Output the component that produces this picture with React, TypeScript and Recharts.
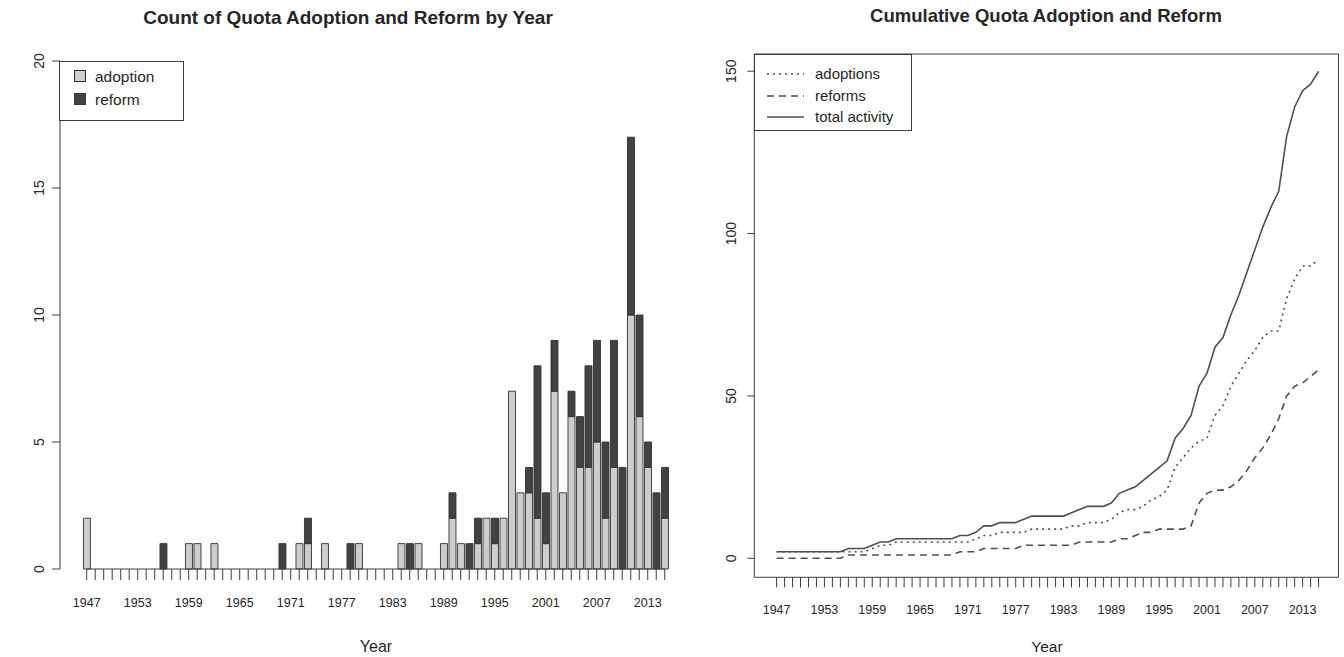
import React from 'react';
import {
  BarChart,
  Bar,
  LineChart,
  Line,
  XAxis,
  YAxis,
  ReferenceLine,
  ReferenceArea,
  Legend,
} from 'recharts';

// ---- data -------------------------------------------------------------
const years = [
  1947, 1948, 1949,
  1950, 1951, 1952, 1953, 1954, 1955, 1956, 1957, 1958, 1959,
  1960, 1961, 1962, 1963, 1964, 1965, 1966, 1967, 1968, 1969,
  1970, 1971, 1972, 1973, 1974, 1975, 1976, 1977, 1978, 1979,
  1980, 1981, 1982, 1983, 1984, 1985, 1986, 1987, 1988, 1989,
  1990, 1991, 1992, 1993, 1994, 1995, 1996, 1997, 1998, 1999,
  2000, 2001, 2002, 2003, 2004, 2005, 2006, 2007, 2008, 2009,
  2010, 2011, 2012, 2013, 2014, 2015,
];

// yearly counts
const adoptionCounts = [
  2, 0, 0,
  0, 0, 0, 0, 0, 0, 0, 0, 0, 1,
  1, 0, 1, 0, 0, 0, 0, 0, 0, 0,
  0, 0, 1, 1, 0, 1, 0, 0, 0, 1,
  0, 0, 0, 0, 1, 0, 1, 0, 0, 1,
  2, 1, 0, 1, 2, 1, 2, 7, 3, 3,
  2, 1, 7, 3, 6, 4, 4, 5, 2, 4,
  0, 10, 6, 4, 0, 2,
];
const reformCounts = [
  0, 0, 0,
  0, 0, 0, 0, 0, 0, 1, 0, 0, 0,
  0, 0, 0, 0, 0, 0, 0, 0, 0, 0,
  1, 0, 0, 1, 0, 0, 0, 0, 1, 0,
  0, 0, 0, 0, 0, 1, 0, 0, 0, 0,
  1, 0, 1, 1, 0, 1, 0, 0, 0, 1,
  6, 2, 2, 0, 1, 2, 4, 4, 3, 5,
  4, 7, 4, 1, 3, 2,
];

// running totals
const cumAdoptions = [
  2, 2, 2,
  2, 2, 2, 2, 2, 2, 2, 2, 2, 3,
  4, 4, 5, 5, 5, 5, 5, 5, 5, 5,
  5, 5, 6, 7, 7, 8, 8, 8, 8, 9,
  9, 9, 9, 9, 10, 10, 11, 11, 11, 12,
  14, 15, 15, 16, 18, 19, 21, 28, 31, 34,
  36, 37, 44, 47, 53, 57, 61, 64, 68, 70,
  70, 80, 86, 90, 90, 92,
];
const cumReforms = [
  0, 0, 0,
  0, 0, 0, 0, 0, 0, 1, 1, 1, 1,
  1, 1, 1, 1, 1, 1, 1, 1, 1, 1,
  2, 2, 2, 3, 3, 3, 3, 3, 4, 4,
  4, 4, 4, 4, 4, 5, 5, 5, 5, 5,
  6, 6, 7, 8, 8, 9, 9, 9, 9, 10,
  17, 20, 21, 21, 22, 24, 27, 31, 34, 38,
  43, 50, 53, 54, 56, 58,
];
const cumTotal = [
  2, 2, 2,
  2, 2, 2, 2, 2, 2, 3, 3, 3, 4,
  5, 5, 6, 6, 6, 6, 6, 6, 6, 6,
  7, 7, 8, 10, 10, 11, 11, 11, 12, 13,
  13, 13, 13, 13, 14, 15, 16, 16, 16, 17,
  20, 21, 22, 24, 26, 28, 30, 37, 40, 44,
  53, 57, 65, 68, 75, 81, 88, 95, 102, 108,
  113, 130, 139, 144, 146, 150,
];

const yearTickLabels = [1947, 1953, 1959, 1965, 1971, 1977, 1983, 1989, 1995, 2001, 2007, 2013];
const countTicks = [0, 5, 10, 15, 20];
const cumulativeTicks = [0, 50, 100, 150];

const countRows = years.map((y, i) => ({
  year: String(y),
  adoption: adoptionCounts[i],
  reform: reformCounts[i],
}));
const cumulativeRows = years.map((y, i) => ({
  year: y,
  adoptions: cumAdoptions[i],
  reforms: cumReforms[i],
  total: cumTotal[i],
}));

// ---- styling ----------------------------------------------------------
const FONT = '"Liberation Sans", Arial, Helvetica, sans-serif';
const INK = '#262626';
const AXIS = '#3c3c3c';
const LIGHT = '#cdcdcd';
const DARK = '#424242';
const LINE = '#4f4f4f';

// one tick per year, a label every six years
const YearTick = (props: any) => {
  const { x, y, payload, tickLen, labelDy } = props;
  const yr = Number(payload.value);
  const show = yearTickLabels.includes(yr);
  return (
    <g>
      <line x1={x} x2={x} y1={y} y2={y + tickLen} stroke={AXIS} strokeWidth={1} />
      {show && (
        <text x={x} y={y + labelDy} textAnchor="middle" fontFamily={FONT} fontSize={12.5} fill={INK}>
          {yr}
        </text>
      )}
    </g>
  );
};

// y ticks with labels turned parallel to the axis
const ValueTick = (props: any) => {
  const { x, y, payload, tickLen, labelDx } = props;
  const lx = x - labelDx;
  return (
    <g>
      <line x1={x - tickLen} x2={x} y1={y} y2={y} stroke={AXIS} strokeWidth={1} />
      <text
        x={lx}
        y={y}
        transform={`rotate(-90, ${lx}, ${y})`}
        textAnchor="middle"
        fontFamily={FONT}
        fontSize={14}
        fill={INK}
      >
        {payload.value}
      </text>
    </g>
  );
};

const CountLegend = () => (
  <svg width={126} height={61} style={{ display: 'block' }}>
    <rect x={0.5} y={0.5} width={124} height={59} fill="#fff" stroke={AXIS} />
    <rect x={15.5} y={9.5} width={11} height={11} fill={LIGHT} stroke="#333" />
    <text x={36} y={21} fontFamily={FONT} fontSize={15.5} fill={INK}>adoption</text>
    <rect x={15.5} y={32.5} width={11} height={11} fill={DARK} stroke="#333" />
    <text x={36} y={44} fontFamily={FONT} fontSize={15.5} fill={INK}>reform</text>
  </svg>
);

const CumulativeLegend = () => (
  <svg width={159} height={78} style={{ display: 'block' }}>
    <rect x={0.5} y={0.5} width={157} height={76} fill="#fff" stroke={AXIS} />
    <line x1={13} x2={50} y1={20} y2={20} stroke={LINE} strokeWidth={1.6} strokeDasharray="2 4" />
    <text x={61} y={25} fontFamily={FONT} fontSize={15} fill={INK}>adoptions</text>
    <line x1={13} x2={50} y1={42} y2={42} stroke={LINE} strokeWidth={1.6} strokeDasharray="7 5" />
    <text x={61} y={47} fontFamily={FONT} fontSize={15} fill={INK}>reforms</text>
    <line x1={13} x2={50} y1={63} y2={63} stroke={LINE} strokeWidth={1.6} />
    <text x={61} y={68} fontFamily={FONT} fontSize={15} fill={INK}>total activity</text>
  </svg>
);

export default function App() {
  return (
    <div
      style={{
        position: 'absolute',
        left: 0,
        top: 0,
        width: 1344,
        height: 657,
        background: '#fff',
        overflow: 'hidden',
      }}
    >
      {/* yearly counts, stacked */}
      <div style={{ position: 'absolute', left: 0, top: 0 }}>
        <BarChart
          width={700}
          height={657}
          data={countRows}
          margin={{ top: 61, right: 31, bottom: 0, left: 0 }}
          barCategoryGap={0}
        >
          <XAxis
            dataKey="year"
            height={88}
            padding={{ left: 22.45, right: 0 }}
            interval={0}
            axisLine={false}
            tickLine={false}
            tickSize={0}
            tickMargin={0}
            tick={<YearTick tickLen={11} labelDy={38} />}
          />
          <YAxis
            width={60}
            type="number"
            domain={[0, 20]}
            ticks={countTicks}
            interval={0}
            axisLine={{ stroke: AXIS, strokeWidth: 1 }}
            tickLine={false}
            tickSize={0}
            tickMargin={0}
            tick={<ValueTick tickLen={8} labelDx={16} />}
          />
          <ReferenceLine
            segment={[
              { x: '1947', y: 0 },
              { x: '2015', y: 0 },
            ]}
            stroke={AXIS}
            strokeWidth={1}
          />
          <Bar
            dataKey="adoption"
            stackId="count"
            fill={LIGHT}
            stroke="#333"
            strokeWidth={0.9}
            barSize={7}
            isAnimationActive={false}
          />
          <Bar
            dataKey="reform"
            stackId="count"
            fill={DARK}
            stroke="#333"
            strokeWidth={0.9}
            barSize={7}
            isAnimationActive={false}
          />
          <Legend
            layout="horizontal"
            verticalAlign="middle"
            align="center"
            content={<CountLegend />}
            wrapperStyle={{ left: 59, top: 61, width: 126, height: 61, bottom: 'auto', right: 'auto' }}
          />
        </BarChart>
      </div>

      {/* running totals */}
      <div style={{ position: 'absolute', left: 700, top: 0 }}>
        <LineChart
          width={644}
          height={657}
          data={cumulativeRows}
          margin={{ top: 54, right: 5.5, bottom: 0, left: 0 }}
        >
          <XAxis
            dataKey="year"
            type="number"
            domain={[1944.2, 2017.5]}
            allowDataOverflow
            ticks={years}
            interval={0}
            height={79.7}
            axisLine={false}
            tickLine={false}
            tickSize={0}
            tickMargin={0}
            tick={<YearTick tickLen={10} labelDy={37} />}
          />
          <YAxis
            width={54.3}
            type="number"
            domain={[-5.85, 155.3]}
            allowDataOverflow
            ticks={cumulativeTicks}
            interval={0}
            axisLine={false}
            tickLine={false}
            tickSize={0}
            tickMargin={0}
            tick={<ValueTick tickLen={7} labelDx={18} />}
          />
          <ReferenceArea
            x1={1944.2}
            x2={2017.5}
            y1={-5.85}
            y2={155.3}
            fill="none"
            fillOpacity={0}
            stroke={AXIS}
            strokeOpacity={1}
            strokeWidth={1}
            ifOverflow="visible"
          />
          <Line
            type="linear"
            dataKey="adoptions"
            stroke={LINE}
            strokeWidth={1.6}
            strokeDasharray="2 4"
            dot={false}
            activeDot={false}
            isAnimationActive={false}
          />
          <Line
            type="linear"
            dataKey="reforms"
            stroke={LINE}
            strokeWidth={1.6}
            strokeDasharray="7 5"
            dot={false}
            activeDot={false}
            isAnimationActive={false}
          />
          <Line
            type="linear"
            dataKey="total"
            stroke={LINE}
            strokeWidth={1.6}
            dot={false}
            activeDot={false}
            isAnimationActive={false}
          />
          <Legend
            layout="horizontal"
            verticalAlign="middle"
            align="center"
            content={<CumulativeLegend />}
            wrapperStyle={{ left: 54, top: 54, width: 159, height: 78, bottom: 'auto', right: 'auto' }}
          />
        </LineChart>
      </div>

      {/* titles and axis titles */}
      <svg
        width={1344}
        height={657}
        style={{ position: 'absolute', left: 0, top: 0, pointerEvents: 'none' }}
      >
        <text x={348} y={24} textAnchor="middle" fontFamily={FONT} fontWeight="bold" fontSize={19} fill={INK}>
          Count of Quota Adoption and Reform by Year
        </text>
        <text x={1046} y={22} textAnchor="middle" fontFamily={FONT} fontWeight="bold" fontSize={18.5} fill={INK}>
          Cumulative Quota Adoption and Reform
        </text>
        <text x={376} y={652} textAnchor="middle" fontFamily={FONT} fontSize={16} fill={INK}>
          Year
        </text>
        <text x={1047} y={652} textAnchor="middle" fontFamily={FONT} fontSize={15.5} fill={INK}>
          Year
        </text>
      </svg>
    </div>
  );
}
